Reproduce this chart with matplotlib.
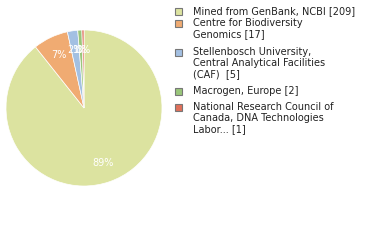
import matplotlib
matplotlib.use('Agg')
import matplotlib.pyplot as plt
from matplotlib.patches import Rectangle

labels = ['Mined from GenBank, NCBI [209]',
          'Centre for Biodiversity\nGenomics [17]',
          'Stellenbosch University,\nCentral Analytical Facilities\n(CAF)  [5]',
          'Macrogen, Europe [2]',
          'National Research Council of\nCanada, DNA Technologies\nLabor... [1]']
counts = [209, 17, 5, 2, 1]
colors = ['#dce3a0', '#f0ab72', '#a3c0e2', '#99c67a', '#e0705a']

fig = plt.figure(figsize=(3.8, 2.4), dpi=100)
W, H = 380.0, 240.0

# pie centre ~ (84, 108), radius ~78 px
cx, cy, r = 84, 108, 78
ax = fig.add_axes([(cx - r) / W, (H - cy - r) / H, 2 * r / W, 2 * r / H])
wedges, texts, autotexts = ax.pie(counts, colors=colors, startangle=90, counterclock=False,
                                  autopct='%.0f%%', pctdistance=0.75,
                                  wedgeprops=dict(linewidth=0.5, edgecolor='white'),
                                  textprops=dict(color='white', fontsize=7))
ax.set_xlim(-1, 1)
ax.set_ylim(-1, 1)
ax.set_aspect('equal')

# legend drawn by hand
text_y = [11, 23, 52, 91, 107]
for lab, col, ty in zip(labels, colors, text_y):
    fig.patches.append(Rectangle((175 / W, 1 - (ty + 4) / H), 7 / W, 7 / H,
                                 transform=fig.transFigure, facecolor=col,
                                 edgecolor='#777777', linewidth=0.8))
    fig.text(193 / W, 1 - (ty - 5) / H, lab, fontsize=7, va='top', ha='left',
             linespacing=1.15, color='#222222')

fig.savefig('out.png', dpi=100)
